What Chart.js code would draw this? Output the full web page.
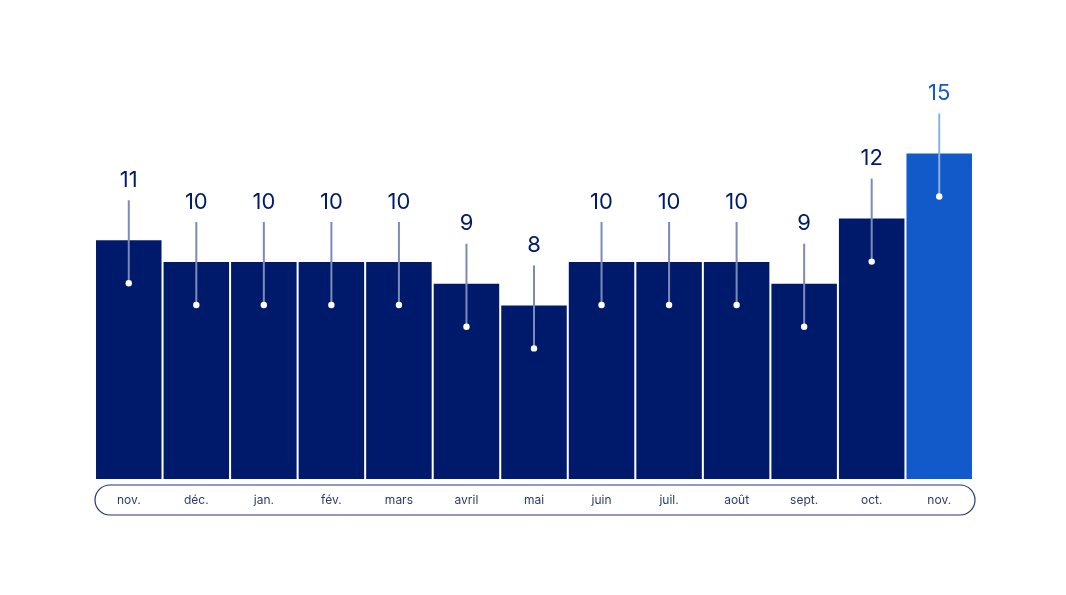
<!DOCTYPE html>
<html>
<head>
<meta charset="utf-8">
<script src="https://cdn.jsdelivr.net/npm/chart.js@4"></script>
<style>
  html, body { margin:0; padding:0; background:#fff; }
  #wrap { width:1066px; height:595px; position:relative; }
</style>
</head>
<body>
<div id="wrap"><canvas id="chart"></canvas></div>
<script>
// months (Nov to Nov) and values
const months = ['nov.','déc.','jan.','fév.','mars','avril','mai','juin','juil.','août','sept.','oct.','nov.'];
const values = [11, 10, 10, 10, 10, 9, 8, 10, 10, 10, 9, 12, 15];

const NAVY = '#001a6b';
const BLUE = '#1259c9';
const barColors = values.map((v,i)=> i===values.length-1 ? BLUE : NAVY);
const stemColors = values.map((v,i)=> i===values.length-1 ? '#8fb0e6' : '#7b8bb8');

// draws the stems, dots and numbers above each bar
const valueLabels = {
    id:'valueLabels',
    afterDatasetsDraw(chart){
        const ctx = chart.ctx;
        const meta = chart.getDatasetMeta(0);
        ctx.save();
        meta.data.forEach((bar,i)=>{
            const x = bar.x, top = bar.y;
            ctx.strokeStyle = stemColors[i];
            ctx.lineWidth = 2;
            ctx.beginPath();
            ctx.moveTo(x, top+43);
            ctx.lineTo(x, top-40);
            ctx.stroke();
            ctx.fillStyle = '#fff';
            ctx.beginPath();
            ctx.arc(x, top+43, 3.2, 0, Math.PI*2);
            ctx.fill();
            ctx.fillStyle = barColors[i];
            ctx.font = '22px Inter, "Noto Sans", sans-serif';
            ctx.textAlign = 'center';
            ctx.textBaseline = 'middle';
            ctx.fillText(String(values[i]), x, top-60);
        });
        ctx.restore();
    }
};

// rounded pill holding the month names
const monthPill = {
    id:'monthPill',
    afterDraw(chart){
        const ctx = chart.ctx;
        const area = chart.chartArea;
        const meta = chart.getDatasetMeta(0);
        const x0 = area.left, x1 = area.right + 2, y0 = area.bottom + 6, y1 = area.bottom + 36;
        const r = (y1-y0)/2;
        ctx.save();
        ctx.strokeStyle = '#24347a';
        ctx.lineWidth = 1.2;
        ctx.beginPath();
        ctx.moveTo(x0+r, y0);
        ctx.lineTo(x1-r, y0);
        ctx.arc(x1-r, y0+r, r, -Math.PI/2, Math.PI/2);
        ctx.lineTo(x0+r, y1);
        ctx.arc(x0+r, y0+r, r, Math.PI/2, Math.PI*1.5);
        ctx.closePath();
        ctx.stroke();
        ctx.fillStyle = '#2c3a72';
        ctx.font = '12px Inter, "Noto Sans", sans-serif';
        ctx.textAlign = 'center';
        ctx.textBaseline = 'middle';
        meta.data.forEach((bar,i)=>{
            ctx.fillText(months[i], bar.x, (y0+y1)/2);
        });
        ctx.restore();
    }
};

new Chart(document.getElementById('chart'), {
    type:'bar',
    data:{
        labels: months,
        datasets:[{
            data: values,
            backgroundColor: barColors,
            borderWidth:0,
            barPercentage:0.97,
            categoryPercentage:1
        }]
    },
    options:{
        responsive:true,
        maintainAspectRatio:false,
        animation:false,
        layout:{padding:{left:95, right:93, top:45, bottom:116}},
        plugins:{legend:{display:false}, tooltip:{enabled:false}},
        scales:{
            x:{display:false},
            y:{display:false, min:0, max:20}
        }
    },
    plugins:[valueLabels, monthPill]
});
</script>
</body>
</html>
